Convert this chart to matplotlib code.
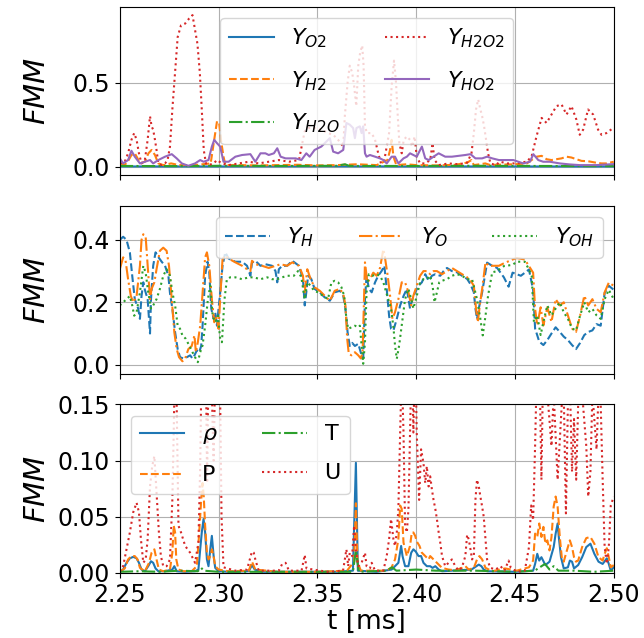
import numpy as np
import matplotlib.pyplot as plt

# --- top panel: species O2, H2, H2O, H2O2, HO2 -------------------------------
y_o2 = [(2.25, 0.002), (2.30, 0.002), (2.35, 0.003), (2.40, 0.002), (2.45, 0.002), (2.50, 0.002)]
y_h2o = [(2.25, 0.005), (2.28, 0.004), (2.30, 0.006), (2.33, 0.005), (2.36, 0.006), (2.364, 0.015),
         (2.366, 0.006), (2.368, 0.005), (2.40, 0.005), (2.43, 0.006), (2.46, 0.005), (2.50, 0.004)]
y_h2 = [(2.25, 0.02), (2.2525, 0.01), (2.2545, 0.04), (2.2559, 0.07), (2.2576, 0.08), (2.259, 0.05),
        (2.2602, 0.02), (2.2627, 0.03), (2.2645, 0.08), (2.2661, 0.10), (2.2678, 0.07), (2.2695, 0.02),
        (2.272, 0.01), (2.276, 0.02), (2.280, 0.01), (2.288, 0.01), (2.296, 0.02), (2.2983, 0.20),
        (2.2992, 0.27), (2.3003, 0.26), (2.3012, 0.16), (2.3025, 0.06), (2.3035, 0.01), (2.31, 0.01),
        (2.32, 0.008), (2.33, 0.01), (2.34, 0.012), (2.35, 0.008), (2.36, 0.01), (2.37, 0.015),
        (2.38, 0.01), (2.3855, 0.04), (2.3868, 0.10), (2.3876, 0.16), (2.3885, 0.06), (2.390, 0.01),
        (2.395, 0.015), (2.40, 0.01), (2.41, 0.008), (2.42, 0.012), (2.4258, 0.025), (2.428, 0.04),
        (2.4292, 0.01), (2.435, 0.02), (2.4376, 0.01), (2.44, 0.012), (2.45, 0.015), (2.456, 0.02),
        (2.4584, 0.04), (2.461, 0.06), (2.4635, 0.065), (2.466, 0.045), (2.4685, 0.04), (2.471, 0.045),
        (2.4736, 0.05), (2.4761, 0.06), (2.4786, 0.055), (2.4811, 0.045), (2.4837, 0.035),
        (2.487, 0.033), (2.4912, 0.024), (2.4938, 0.02), (2.4963, 0.02), (2.50, 0.03)]
y_h2o2 = [(2.25, 0.02), (2.2525, 0.03), (2.2542, 0.08), (2.2559, 0.16), (2.2573, 0.20), (2.2585, 0.16),
          (2.2597, 0.08), (2.261, 0.02), (2.2627, 0.04), (2.2641, 0.16), (2.2653, 0.30), (2.2661, 0.24),
          (2.2669, 0.22), (2.2678, 0.16), (2.2686, 0.10), (2.2695, 0.02), (2.2712, 0.01), (2.2729, 0.02),
          (2.2742, 0.04), (2.2754, 0.12), (2.2766, 0.34), (2.278, 0.56), (2.2793, 0.77), (2.281, 0.84),
          (2.2831, 0.85), (2.2851, 0.88), (2.2868, 0.90), (2.2881, 0.81), (2.2893, 0.73), (2.2905, 0.56),
          (2.2915, 0.34), (2.2925, 0.10), (2.2936, 0.02), (2.2949, 0.01), (2.2975, 0.02), (2.2992, 0.04),
          (2.3017, 0.02), (2.3051, 0.01), (2.3102, 0.02), (2.3153, 0.03), (2.3203, 0.02), (2.3254, 0.03),
          (2.3305, 0.04), (2.3356, 0.03), (2.3407, 0.04), (2.3427, 0.16), (2.3436, 0.21), (2.3453, 0.23),
          (2.3486, 0.23), (2.352, 0.22), (2.3554, 0.20), (2.358, 0.19), (2.3605, 0.16), (2.3631, 0.12),
          (2.3639, 0.30), (2.3653, 0.50), (2.3664, 0.60), (2.3676, 0.56), (2.3686, 0.48), (2.3697, 0.36),
          (2.3707, 0.60), (2.3717, 0.68), (2.3727, 0.72), (2.3734, 0.60), (2.3741, 0.24), (2.3751, 0.20),
          (2.3775, 0.20), (2.3792, 0.16), (2.3808, 0.08), (2.3822, 0.02), (2.3839, 0.04), (2.3851, 0.12),
          (2.3863, 0.20), (2.3876, 0.48), (2.3888, 0.63), (2.3898, 0.50), (2.3907, 0.30), (2.3915, 0.14),
          (2.3927, 0.08), (2.3937, 0.16), (2.3953, 0.18), (2.3969, 0.16), (2.3981, 0.12), (2.3992, 0.18),
          (2.4003, 0.06), (2.402, 0.02), (2.4046, 0.02), (2.4071, 0.04), (2.4083, 0.14), (2.4093, 0.04),
          (2.4114, 0.01), (2.4164, 0.02), (2.4215, 0.015), (2.4258, 0.024), (2.428, 0.08), (2.4292, 0.20),
          (2.4303, 0.34), (2.4314, 0.40), (2.4325, 0.34), (2.4334, 0.30), (2.4344, 0.24), (2.4354, 0.16),
          (2.4364, 0.08), (2.4376, 0.02), (2.4402, 0.01), (2.4424, 0.03), (2.4462, 0.02), (2.4492, 0.02),
          (2.4525, 0.025), (2.4559, 0.03), (2.4584, 0.06), (2.4609, 0.18), (2.4635, 0.29), (2.466, 0.26),
          (2.4685, 0.31), (2.471, 0.36), (2.4736, 0.37), (2.4761, 0.31), (2.4786, 0.36), (2.4811, 0.28),
          (2.4828, 0.19), (2.4845, 0.22), (2.487, 0.34), (2.4896, 0.31), (2.4921, 0.22), (2.4938, 0.19),
          (2.4963, 0.20), (2.4997, 0.23)]
y_ho2 = [(2.25, 0.05), (2.2517, 0.02), (2.2542, 0.04), (2.2559, 0.095), (2.2576, 0.06), (2.2602, 0.02),
         (2.2627, 0.03), (2.2653, 0.04), (2.2669, 0.02), (2.2695, 0.04), (2.2729, 0.06), (2.2763, 0.075),
         (2.2788, 0.05), (2.2814, 0.02), (2.2847, 0.006), (2.2881, 0.02), (2.2907, 0.04), (2.2924, 0.03),
         (2.2949, 0.04), (2.2966, 0.12), (2.2978, 0.16), (2.2992, 0.14), (2.3008, 0.12), (2.3025, 0.03),
         (2.3051, 0.03), (2.3085, 0.06), (2.3119, 0.07), (2.3161, 0.075), (2.3186, 0.03), (2.3212, 0.08),
         (2.3237, 0.08), (2.3254, 0.07), (2.3280, 0.08), (2.3297, 0.11), (2.3314, 0.06), (2.3339, 0.05),
         (2.3390, 0.05), (2.3419, 0.04), (2.3444, 0.08), (2.3461, 0.06), (2.3486, 0.10), (2.352, 0.12),
         (2.3546, 0.15), (2.3563, 0.17), (2.358, 0.09), (2.3605, 0.08), (2.3631, 0.10), (2.3647, 0.26),
         (2.3664, 0.25), (2.3681, 0.23), (2.369, 0.17), (2.3698, 0.23), (2.3715, 0.24), (2.3724, 0.20),
         (2.3732, 0.24), (2.3741, 0.08), (2.3749, 0.06), (2.3766, 0.07), (2.3792, 0.06), (2.3817, 0.05),
         (2.3834, 0.04), (2.3851, 0.02), (2.3876, 0.06), (2.3893, 0.06), (2.391, 0.02), (2.3936, 0.05),
         (2.3953, 0.06), (2.3969, 0.08), (2.3986, 0.07), (2.4003, 0.06), (2.4029, 0.12), (2.4046, 0.05),
         (2.4063, 0.04), (2.4088, 0.06), (2.4114, 0.08), (2.4147, 0.06), (2.4181, 0.06), (2.4215, 0.065),
         (2.4249, 0.07), (2.4275, 0.075), (2.43, 0.05), (2.4334, 0.05), (2.4359, 0.06), (2.4385, 0.05),
         (2.4419, 0.04), (2.4444, 0.04), (2.4492, 0.04), (2.4542, 0.02), (2.4576, 0.03), (2.4593, 0.075),
         (2.4618, 0.04), (2.4643, 0.03), (2.4676, 0.03), (2.4727, 0.02), (2.4778, 0.014), (2.4828, 0.01),
         (2.4912, 0.01), (2.50, 0.016)]

# --- middle panel: radicals H, O, OH ------------------------------------------
y_h = [(2.25, 0.40), (2.2517, 0.41), (2.2534, 0.40), (2.2551, 0.36), (2.2563, 0.285), (2.2576, 0.21),
       (2.2593, 0.18), (2.2602, 0.147), (2.2610, 0.22), (2.2619, 0.264), (2.2627, 0.24), (2.2641, 0.21),
       (2.2653, 0.10), (2.2658, 0.21), (2.2669, 0.317), (2.2681, 0.36), (2.2695, 0.345), (2.2712, 0.33),
       (2.2729, 0.317), (2.2746, 0.285), (2.2754, 0.23), (2.2766, 0.18), (2.2780, 0.104), (2.2793, 0.05),
       (2.2805, 0.024), (2.2822, 0.02), (2.2839, 0.024), (2.2856, 0.03), (2.2868, 0.02), (2.2878, 0.03),
       (2.2890, 0.046), (2.2902, 0.04), (2.2912, 0.06), (2.2919, 0.125), (2.2932, 0.285), (2.2944, 0.33),
       (2.2953, 0.295), (2.2963, 0.18), (2.2975, 0.147), (2.2983, 0.168), (2.2992, 0.125), (2.3000, 0.18),
       (2.3008, 0.23), (2.3020, 0.317), (2.3034, 0.36), (2.3051, 0.34), (2.3085, 0.33), (2.3119, 0.33),
       (2.3144, 0.317), (2.3161, 0.285), (2.3169, 0.327), (2.3186, 0.333), (2.3212, 0.317), (2.3237, 0.322),
       (2.3271, 0.317), (2.3288, 0.30), (2.3297, 0.264), (2.3305, 0.306), (2.3322, 0.317), (2.3347, 0.317),
       (2.3373, 0.333), (2.3407, 0.317), (2.3427, 0.275), (2.3436, 0.19), (2.3444, 0.232), (2.3453, 0.285),
       (2.3469, 0.275), (2.3486, 0.243), (2.3512, 0.232), (2.3537, 0.216), (2.3563, 0.205), (2.3588, 0.232),
       (2.3614, 0.237), (2.3631, 0.221), (2.3642, 0.18), (2.3653, 0.104), (2.3664, 0.06), (2.3676, 0.07),
       (2.3690, 0.06), (2.3707, 0.067), (2.3724, 0.03), (2.3732, 0.02), (2.3741, 0.21), (2.3749, 0.285),
       (2.3761, 0.243), (2.3775, 0.232), (2.3792, 0.264), (2.3808, 0.285), (2.3825, 0.30), (2.3839, 0.317),
       (2.3851, 0.243), (2.3863, 0.157), (2.3873, 0.115), (2.3885, 0.11), (2.3902, 0.147), (2.3919, 0.19),
       (2.3936, 0.22), (2.3953, 0.243), (2.3969, 0.18), (2.3981, 0.21), (2.3995, 0.232), (2.4012, 0.253),
       (2.4029, 0.264), (2.4046, 0.29), (2.4063, 0.269), (2.4080, 0.285), (2.4097, 0.29), (2.4122, 0.285),
       (2.4139, 0.30), (2.4156, 0.31), (2.4181, 0.30), (2.4207, 0.296), (2.4232, 0.285), (2.4258, 0.275),
       (2.4275, 0.258), (2.4292, 0.232), (2.4300, 0.18), (2.4308, 0.147), (2.4317, 0.18), (2.4334, 0.232),
       (2.4351, 0.296), (2.4359, 0.327), (2.4385, 0.317), (2.4410, 0.31), (2.4444, 0.28), (2.4468, 0.25),
       (2.4488, 0.295), (2.4530, 0.285), (2.4571, 0.305), (2.4592, 0.24), (2.4602, 0.116), (2.4623, 0.074),
       (2.4644, 0.063), (2.4664, 0.079), (2.4685, 0.10), (2.4706, 0.12), (2.4727, 0.105), (2.4747, 0.09),
       (2.4768, 0.079), (2.4789, 0.063), (2.4809, 0.05), (2.4830, 0.07), (2.4851, 0.095), (2.4871, 0.105),
       (2.4892, 0.11), (2.4913, 0.13), (2.4934, 0.125), (2.4954, 0.23), (2.4975, 0.253), (2.50, 0.24)]
y_o = [(2.25, 0.306), (2.2517, 0.344), (2.2529, 0.335), (2.2542, 0.274), (2.2556, 0.22), (2.2568, 0.20),
       (2.2585, 0.22), (2.2602, 0.317), (2.2610, 0.40), (2.2619, 0.418), (2.2631, 0.41), (2.2641, 0.317),
       (2.2653, 0.21), (2.2661, 0.243), (2.2675, 0.264), (2.2686, 0.306), (2.2703, 0.365), (2.2720, 0.375),
       (2.2737, 0.365), (2.2749, 0.317), (2.2763, 0.21), (2.2776, 0.104), (2.2788, 0.05), (2.2800, 0.024),
       (2.2817, 0.011), (2.2831, 0.02), (2.2847, 0.05), (2.2864, 0.06), (2.2878, 0.094), (2.2885, 0.04),
       (2.2895, 0.072), (2.2907, 0.125), (2.2919, 0.232), (2.2932, 0.344), (2.2941, 0.36), (2.2953, 0.317),
       (2.2966, 0.21), (2.2978, 0.136), (2.2988, 0.157), (2.3000, 0.115), (2.3008, 0.21), (2.3020, 0.338),
       (2.3034, 0.35), (2.3051, 0.34), (2.3085, 0.328), (2.3119, 0.317), (2.3144, 0.306), (2.3161, 0.30),
       (2.3169, 0.333), (2.3186, 0.322), (2.3220, 0.317), (2.3254, 0.31), (2.3288, 0.317), (2.3314, 0.322),
       (2.3347, 0.317), (2.3373, 0.328), (2.3407, 0.317), (2.3427, 0.285), (2.3436, 0.232), (2.3449, 0.306),
       (2.3466, 0.274), (2.3486, 0.248), (2.3512, 0.237), (2.3537, 0.221), (2.3563, 0.205), (2.3588, 0.237),
       (2.3614, 0.243), (2.3631, 0.227), (2.3642, 0.19), (2.3651, 0.083), (2.3659, 0.035), (2.3673, 0.03),
       (2.3690, 0.04), (2.3707, 0.03), (2.3720, 0.02), (2.3729, 0.04), (2.3741, 0.328), (2.3753, 0.264),
       (2.3766, 0.274), (2.3783, 0.295), (2.3800, 0.285), (2.3817, 0.31), (2.3834, 0.37), (2.3842, 0.344),
       (2.3856, 0.285), (2.3868, 0.221), (2.3880, 0.147), (2.3893, 0.168), (2.3910, 0.21), (2.3927, 0.264),
       (2.3944, 0.264), (2.3961, 0.232), (2.3975, 0.19), (2.3986, 0.221), (2.4003, 0.253), (2.4020, 0.285),
       (2.4037, 0.30), (2.4054, 0.30), (2.4071, 0.29), (2.4088, 0.30), (2.4105, 0.30), (2.4131, 0.29),
       (2.4156, 0.30), (2.4181, 0.31), (2.4207, 0.30), (2.4232, 0.29), (2.4258, 0.28), (2.4275, 0.27),
       (2.4292, 0.253), (2.4303, 0.18), (2.4312, 0.136), (2.4322, 0.19), (2.4334, 0.243), (2.4351, 0.328),
       (2.4368, 0.317), (2.4393, 0.317), (2.4419, 0.317), (2.4444, 0.325), (2.4488, 0.337), (2.4509, 0.342),
       (2.4550, 0.337), (2.4571, 0.316), (2.4592, 0.295), (2.4602, 0.179), (2.4613, 0.126), (2.4630, 0.184),
       (2.4644, 0.126), (2.4664, 0.184), (2.4685, 0.137), (2.4706, 0.21), (2.4727, 0.19), (2.4747, 0.20),
       (2.4768, 0.158), (2.4789, 0.116), (2.4809, 0.105), (2.4830, 0.158), (2.4851, 0.221), (2.4871, 0.19),
       (2.4892, 0.21), (2.4913, 0.179), (2.4934, 0.168), (2.4954, 0.232), (2.4975, 0.263), (2.50, 0.253)]
y_oh = [(2.25, 0.19), (2.2517, 0.20), (2.2534, 0.21), (2.2551, 0.22), (2.2563, 0.19), (2.2573, 0.157),
        (2.2585, 0.168), (2.2602, 0.232), (2.2619, 0.317), (2.2631, 0.295), (2.2644, 0.232), (2.2658, 0.18),
        (2.2669, 0.19), (2.2686, 0.21), (2.2703, 0.243), (2.2720, 0.285), (2.2737, 0.306), (2.2754, 0.285),
        (2.2766, 0.232), (2.2780, 0.19), (2.2793, 0.125), (2.2805, 0.115), (2.2817, 0.094), (2.2834, 0.083),
        (2.2851, 0.062), (2.2868, 0.04), (2.2881, 0.024), (2.2895, 0.008), (2.2907, 0.04), (2.2919, 0.062),
        (2.2932, 0.125), (2.2946, 0.21), (2.2958, 0.253), (2.2970, 0.157), (2.2983, 0.136), (2.2997, 0.157),
        (2.3008, 0.083), (2.3017, 0.072), (2.3030, 0.21), (2.3042, 0.274), (2.3059, 0.28), (2.3085, 0.28),
        (2.3119, 0.274), (2.3153, 0.28), (2.3178, 0.28), (2.3212, 0.274), (2.3246, 0.28), (2.3271, 0.274),
        (2.3297, 0.274), (2.3322, 0.28), (2.3347, 0.285), (2.3381, 0.285), (2.3402, 0.30), (2.3419, 0.28),
        (2.3436, 0.21), (2.3449, 0.264), (2.3466, 0.253), (2.3483, 0.237), (2.3503, 0.232), (2.3529, 0.221),
        (2.3554, 0.21), (2.3571, 0.264), (2.3588, 0.269), (2.3605, 0.264), (2.3622, 0.248), (2.3636, 0.22),
        (2.3647, 0.147), (2.3656, 0.115), (2.3673, 0.12), (2.3690, 0.125), (2.3707, 0.12), (2.3715, 0.125),
        (2.3724, 0.062), (2.3732, 0.003), (2.3741, 0.072), (2.3749, 0.232), (2.3761, 0.29), (2.3778, 0.285),
        (2.3800, 0.29), (2.3817, 0.285), (2.3834, 0.264), (2.3846, 0.237), (2.3859, 0.21), (2.3873, 0.18),
        (2.3885, 0.12), (2.3893, 0.062), (2.3902, 0.019), (2.3914, 0.062), (2.3927, 0.125), (2.3944, 0.21),
        (2.3961, 0.243), (2.3975, 0.21), (2.3986, 0.18), (2.4003, 0.22), (2.4020, 0.264), (2.4037, 0.274),
        (2.4054, 0.274), (2.4071, 0.285), (2.4083, 0.253), (2.4093, 0.20), (2.4105, 0.232), (2.4117, 0.264),
        (2.4131, 0.269), (2.4156, 0.274), (2.4181, 0.285), (2.4207, 0.29), (2.4232, 0.285), (2.4258, 0.274),
        (2.4283, 0.274), (2.4308, 0.21), (2.4325, 0.147), (2.4337, 0.094), (2.4351, 0.157), (2.4364, 0.221),
        (2.4385, 0.296), (2.4410, 0.30), (2.4444, 0.316), (2.4488, 0.32), (2.4509, 0.33), (2.4550, 0.33),
        (2.4571, 0.305), (2.4585, 0.284), (2.4596, 0.137), (2.4613, 0.158), (2.4630, 0.095), (2.4644, 0.137),
        (2.4664, 0.19), (2.4685, 0.158), (2.4706, 0.18), (2.4727, 0.20), (2.4747, 0.168), (2.4768, 0.147),
        (2.4789, 0.116), (2.4809, 0.11), (2.4830, 0.158), (2.4851, 0.20), (2.4871, 0.168), (2.4892, 0.179),
        (2.4913, 0.158), (2.4934, 0.147), (2.4954, 0.21), (2.4975, 0.24), (2.50, 0.21)]

# --- bottom panel: rho, P, T, U -------------------------------------------------
y_rho = [(2.25, 0.001), (2.2517, 0.003), (2.2534, 0.009), (2.2551, 0.013), (2.2568, 0.0143), (2.2585, 0.013),
         (2.2597, 0.009), (2.2610, 0.003), (2.2627, 0.0015), (2.2644, 0.006), (2.2658, 0.0104), (2.2669, 0.009),
         (2.2681, 0.004), (2.2695, 0.0015), (2.2729, 0.0015), (2.2766, 0.003), (2.2776, 0.006), (2.2788, 0.0015),
         (2.2831, 0.001), (2.2881, 0.0015), (2.2898, 0.003), (2.2907, 0.021), (2.2915, 0.036), (2.2924, 0.048),
         (2.2932, 0.036), (2.2941, 0.012), (2.2949, 0.006), (2.2958, 0.021), (2.2966, 0.033), (2.2975, 0.015),
         (2.2983, 0.0045), (2.3000, 0.0015), (2.3051, 0.001), (2.3153, 0.0015), (2.3169, 0.007), (2.3183, 0.003),
         (2.3220, 0.001), (2.3400, 0.001), (2.3600, 0.001), (2.3680, 0.002), (2.3695, 0.098), (2.3705, 0.002),
         (2.3800, 0.001), (2.3876, 0.003), (2.3893, 0.006), (2.3910, 0.009), (2.3924, 0.024), (2.3931, 0.015),
         (2.3944, 0.006), (2.3961, 0.006), (2.3975, 0.018), (2.3986, 0.021), (2.3998, 0.019), (2.4012, 0.015),
         (2.4025, 0.015), (2.4037, 0.009), (2.4054, 0.006), (2.4071, 0.006), (2.4083, 0.0045), (2.4097, 0.006),
         (2.4114, 0.003), (2.4131, 0.0015), (2.4280, 0.003), (2.4317, 0.0074), (2.4330, 0.006), (2.4342, 0.003),
         (2.4359, 0.0015), (2.4500, 0.001), (2.4592, 0.002), (2.4602, 0.008), (2.4613, 0.017), (2.4623, 0.011),
         (2.4634, 0.014), (2.4654, 0.007), (2.4675, 0.01), (2.4696, 0.023), (2.4706, 0.035), (2.4716, 0.044),
         (2.4722, 0.032), (2.4733, 0.014), (2.4747, 0.004), (2.4768, 0.005), (2.4778, 0.011), (2.4789, 0.01),
         (2.4799, 0.004), (2.4820, 0.007), (2.4840, 0.014), (2.4861, 0.023), (2.4882, 0.026), (2.4902, 0.017),
         (2.4923, 0.01), (2.4944, 0.008), (2.4965, 0.013), (2.4975, 0.008), (2.4985, 0.002), (2.50, 0.005)]
y_p = [(2.25, 0.001), (2.2525, 0.004), (2.2542, 0.012), (2.2559, 0.015), (2.2576, 0.015), (2.2590, 0.012),
       (2.2602, 0.0045), (2.2627, 0.0015), (2.2648, 0.009), (2.2661, 0.018), (2.2675, 0.021), (2.2686, 0.012),
       (2.2698, 0.003), (2.2720, 0.0015), (2.2754, 0.003), (2.2766, 0.018), (2.2773, 0.042), (2.2780, 0.036),
       (2.2786, 0.012), (2.2797, 0.003), (2.2822, 0.0015), (2.2864, 0.0015), (2.2890, 0.006), (2.2902, 0.036),
       (2.2912, 0.065), (2.2919, 0.080), (2.2925, 0.068), (2.2932, 0.042), (2.2941, 0.018), (2.2949, 0.012),
       (2.2958, 0.015), (2.2966, 0.021), (2.2975, 0.015), (2.2983, 0.006), (2.3000, 0.003), (2.3050, 0.0015),
       (2.3153, 0.002), (2.3169, 0.01), (2.3186, 0.003), (2.3300, 0.001), (2.3500, 0.001), (2.3650, 0.002),
       (2.3686, 0.01), (2.3695, 0.062), (2.3703, 0.01), (2.3720, 0.002), (2.3851, 0.002), (2.3876, 0.005),
       (2.3893, 0.012), (2.3910, 0.030), (2.3919, 0.060), (2.3927, 0.057), (2.3936, 0.027), (2.3953, 0.015),
       (2.3969, 0.024), (2.3978, 0.036), (2.3986, 0.036), (2.3995, 0.033), (2.4003, 0.028), (2.4017, 0.024),
       (2.4029, 0.018), (2.4046, 0.015), (2.4063, 0.012), (2.4071, 0.015), (2.4088, 0.012), (2.4105, 0.009),
       (2.4131, 0.0045), (2.4164, 0.003), (2.4198, 0.0024), (2.4232, 0.0045), (2.4249, 0.006), (2.4266, 0.003),
       (2.4292, 0.0045), (2.4308, 0.012), (2.4320, 0.015), (2.4334, 0.012), (2.4351, 0.0045), (2.4385, 0.0015),
       (2.4450, 0.004), (2.4509, 0.002), (2.4571, 0.005), (2.4592, 0.011), (2.4602, 0.035), (2.4613, 0.032),
       (2.4623, 0.044), (2.4634, 0.032), (2.4644, 0.041), (2.4654, 0.026), (2.4664, 0.029), (2.4675, 0.02),
       (2.4685, 0.032), (2.4696, 0.059), (2.4706, 0.068), (2.4716, 0.059), (2.4727, 0.032), (2.4737, 0.014),
       (2.4747, 0.01), (2.4758, 0.017), (2.4768, 0.023), (2.4778, 0.029), (2.4789, 0.023), (2.4799, 0.014),
       (2.4809, 0.01), (2.4820, 0.011), (2.4840, 0.023), (2.4861, 0.031), (2.4882, 0.032), (2.4902, 0.026),
       (2.4923, 0.014), (2.4944, 0.011), (2.4954, 0.017), (2.4965, 0.022), (2.4975, 0.014), (2.4985, 0.005),
       (2.50, 0.007)]
y_t = [(2.25, 0.001), (2.26, 0.0015), (2.27, 0.001), (2.28, 0.002), (2.2895, 0.0015), (2.2912, 0.0045),
       (2.2925, 0.002), (2.30, 0.001), (2.32, 0.001), (2.35, 0.001), (2.368, 0.001), (2.3695, 0.02),
       (2.371, 0.001), (2.385, 0.002), (2.3878, 0.005), (2.390, 0.002), (2.40, 0.003), (2.41, 0.002),
       (2.43, 0.002), (2.45, 0.001), (2.46, 0.002), (2.4652, 0.008), (2.4675, 0.003), (2.4696, 0.006),
       (2.472, 0.002), (2.48, 0.002), (2.49, 0.001), (2.50, 0.002)]
y_u = [(2.25, 0.001), (2.2517, 0.006), (2.2534, 0.021), (2.2551, 0.036), (2.2568, 0.054), (2.2585, 0.0625),
       (2.2597, 0.054), (2.2607, 0.03), (2.2619, 0.009), (2.2631, 0.012), (2.2641, 0.03), (2.2653, 0.077),
       (2.2664, 0.095), (2.2675, 0.104), (2.2686, 0.071), (2.2698, 0.036), (2.2708, 0.015), (2.2720, 0.006),
       (2.2737, 0.006), (2.2754, 0.012), (2.2766, 0.065), (2.2773, 0.125), (2.2780, 0.20), (2.2788, 0.15),
       (2.2797, 0.042), (2.2810, 0.036), (2.2831, 0.024), (2.2856, 0.018), (2.2881, 0.009), (2.2898, 0.027),
       (2.2907, 0.095), (2.2915, 0.20), (2.2925, 0.35), (2.2935, 0.20), (2.2942, 0.08), (2.2950, 0.20),
       (2.2958, 0.30), (2.2966, 0.16), (2.2975, 0.10), (2.2985, 0.20), (2.2995, 0.30), (2.3005, 0.20),
       (2.3015, 0.05), (2.3025, 0.005), (2.3085, 0.002), (2.3144, 0.003), (2.3161, 0.014), (2.3169, 0.019),
       (2.3178, 0.018), (2.3186, 0.012), (2.3203, 0.002), (2.3305, 0.002), (2.3322, 0.008), (2.3339, 0.009),
       (2.3356, 0.002), (2.3420, 0.002), (2.3436, 0.016), (2.3445, 0.004), (2.3550, 0.001), (2.3630, 0.002),
       (2.3647, 0.021), (2.3656, 0.006), (2.3664, 0.018), (2.3676, 0.015), (2.3686, 0.042), (2.3695, 0.02),
       (2.3707, 0.006), (2.3724, 0.009), (2.3741, 0.018), (2.3749, 0.006), (2.3766, 0.004), (2.3775, 0.009),
       (2.3792, 0.002), (2.3834, 0.002), (2.3851, 0.015), (2.3863, 0.030), (2.3873, 0.048), (2.3885, 0.03),
       (2.3893, 0.024), (2.3902, 0.036), (2.3910, 0.057), (2.3919, 0.125), (2.3927, 0.18), (2.3936, 0.125),
       (2.3944, 0.042), (2.3953, 0.036), (2.3961, 0.057), (2.3969, 0.125), (2.3978, 0.20), (2.3986, 0.125),
       (2.3995, 0.20), (2.4003, 0.125), (2.4015, 0.065), (2.4025, 0.11), (2.4037, 0.098), (2.4046, 0.08),
       (2.4054, 0.095), (2.4063, 0.077), (2.4071, 0.086), (2.4080, 0.074), (2.4088, 0.065), (2.4097, 0.057),
       (2.4105, 0.048), (2.4114, 0.036), (2.4122, 0.027), (2.4131, 0.015), (2.4147, 0.006), (2.4164, 0.009),
       (2.4181, 0.012), (2.4198, 0.006), (2.4215, 0.002), (2.4232, 0.005), (2.4249, 0.015), (2.4258, 0.034),
       (2.4266, 0.03), (2.4275, 0.021), (2.4283, 0.012), (2.4292, 0.015), (2.4300, 0.065), (2.4308, 0.083),
       (2.4317, 0.077), (2.4325, 0.068), (2.4334, 0.059), (2.4342, 0.05), (2.4351, 0.03), (2.4359, 0.012),
       (2.4376, 0.0045), (2.4402, 0.003), (2.4427, 0.006), (2.4447, 0.002), (2.4468, 0.011), (2.4478, 0.005),
       (2.4509, 0.001), (2.4550, 0.002), (2.4571, 0.023), (2.4582, 0.06), (2.4592, 0.047), (2.4602, 0.113),
       (2.4613, 0.20), (2.4623, 0.20), (2.4634, 0.083), (2.4644, 0.20), (2.4664, 0.16), (2.4685, 0.113),
       (2.4696, 0.16), (2.4716, 0.083), (2.4737, 0.15), (2.4747, 0.16), (2.4758, 0.053), (2.4768, 0.15),
       (2.4778, 0.17), (2.4789, 0.09), (2.4799, 0.137), (2.4810, 0.083), (2.4820, 0.15), (2.4840, 0.16),
       (2.4861, 0.113), (2.4871, 0.068), (2.4882, 0.09), (2.4892, 0.16), (2.4913, 0.11), (2.4923, 0.16),
       (2.4934, 0.15), (2.4944, 0.083), (2.4954, 0.023), (2.4965, 0.008), (2.4975, 0.023), (2.4985, 0.06),
       (2.50, 0.068)]

ticks_t = [2.25, 2.30, 2.35, 2.40, 2.45, 2.50]


def draw(ax, series, style, color, label):
    t, v = np.array(series).T
    ax.plot(t, v, style, color=color, lw=1.5, label=label)


fig, axes = plt.subplots(3, 1, sharex=True, figsize=(6.44, 6.38), dpi=100)
plt.subplots_adjust(left=0.186, right=0.953, top=0.9895, bottom=0.102, hspace=0.18)

ax1, ax2, ax3 = axes
leg_kw = dict(fontsize=16, labelspacing=0.85)

draw(ax1, y_o2, '-', 'C0', r'$Y_{O2}$')
draw(ax1, y_h2, '--', 'C1', r'$Y_{H2}$')
draw(ax1, y_h2o, '-.', 'C2', r'$Y_{H2O}$')
draw(ax1, y_h2o2, ':', 'C3', r'$Y_{H2O2}$')
draw(ax1, y_ho2, '-', 'C4', r'$Y_{HO2}$')
ax1.set_ylim(-0.05, 0.95)
ax1.set_yticks([0.0, 0.5])
ax1.legend(loc='upper center', ncol=2, **leg_kw)

draw(ax2, y_h, '--', 'C0', r'$Y_H$')
draw(ax2, y_o, '-.', 'C1', r'$Y_O$')
draw(ax2, y_oh, ':', 'C2', r'$Y_{OH}$')
ax2.set_ylim(-0.03, 0.51)
ax2.set_yticks([0.0, 0.2, 0.4])
ax2.legend(loc='upper right', ncol=3, **leg_kw)

draw(ax3, y_rho, '-', 'C0', r'$\rho$')
draw(ax3, y_p, '--', 'C1', 'P')
draw(ax3, y_t, '-.', 'C2', 'T')
draw(ax3, y_u, ':', 'C3', 'U')
ax3.set_ylim(0, 0.15)
ax3.set_yticks([0.0, 0.05, 0.10, 0.15])
ax3.legend(loc='upper left', ncol=2, **leg_kw)

ax3.set_xlim(2.25, 2.50)
ax3.set_xticks(ticks_t)
ax3.set_xlabel('t [ms]', fontsize=19, labelpad=2)

for ax in axes:
    ax.grid(True)
    ax.tick_params(labelsize=17)
    ax.set_ylabel(r'$FMM$', fontsize=21)
    ax.yaxis.set_label_coords(-0.14, 0.5)

plt.savefig('out.png')
